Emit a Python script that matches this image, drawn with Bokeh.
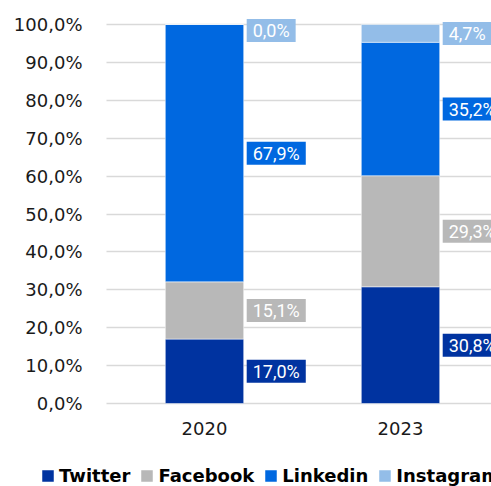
from bokeh.plotting import figure
from bokeh.models import ColumnDataSource, Range1d, FixedTicker, Legend, LegendItem, Grid
from bokeh.core.properties import value
from bokeh.embed import file_html
from bokeh.resources import INLINE

years = ["2020", "2023"]
series = ["Twitter", "Facebook", "Linkedin", "Instagram"]
twitter = [17.0, 30.8]
facebook = [15.1, 29.3]
linkedin = [67.9, 35.2]
instagram = [0.0, 4.7]
colors = ["#0033A0", "#B8B8B8", "#0068E0", "#93BDE8"]
y_ticks = [0, 10, 20, 30, 40, 50, 60, 70, 80, 90, 100]

values = {"Twitter": twitter, "Facebook": facebook, "Linkedin": linkedin, "Instagram": instagram}
xs = list(range(len(years)))

data = {"x": xs}
data.update(values)
source = ColumnDataSource(data)

W, H = 491, 486
XPX = 196.0   # px per category
YPX = 3.79    # px per percent
X0, Y0 = 204, 403  # pixel position of first category / of 0 %

x_left = -X0 / XPX
x_right = (W - X0) / XPX
y_top = Y0 / YPX
y_bottom = -(H - Y0) / YPX
axis_x = -0.5

p = figure(width=W, height=H, output_backend="svg", toolbar_location=None,
           x_range=Range1d(x_left, x_right), y_range=Range1d(y_bottom, y_top),
           min_border=0, min_border_left=0, min_border_right=0,
           min_border_top=0, min_border_bottom=0)

renderers = p.vbar_stack(series, x="x", width=0.4, color=colors, source=source,
                         line_color="white", line_width=0.5)

def fmt(v):
    return f"{v:.1f}".replace(".", ",") + "%"

bottoms = [0.0] * len(years)
for name, col in zip(series, colors):
    vals = values[name]
    mids = []
    for i, v in enumerate(vals):
        mids.append(min(bottoms[i] + v / 2, 98.4))
        bottoms[i] += v
    lsrc = ColumnDataSource(dict(x=[x + 0.2 for x in xs], y=mids, t=[fmt(v) for v in vals]))
    p.text(x="x", y="y", text="t", source=lsrc, x_offset=3,
           text_align="left", text_baseline="middle",
           text_color="white", text_font=value("Roboto"),
           text_font_size="18px", background_fill_color=col, padding=(6, 1))

p.yaxis.ticker = FixedTicker(ticks=y_ticks)
p.yaxis.major_label_overrides = {t: f"{t:.1f}".replace(".", ",") + "%" for t in y_ticks}
p.xaxis.ticker = FixedTicker(ticks=xs)
p.xaxis.major_label_overrides = {i: y for i, y in enumerate(years)}
p.yaxis.fixed_location = axis_x
p.xaxis.fixed_location = 0

for ax in (p.xaxis, p.yaxis):
    ax.axis_line_color = None
    ax.major_tick_line_color = None
    ax.minor_tick_line_color = None
    ax.major_label_text_font = "DejaVu Sans"
    ax.major_label_text_font_size = "18px"
    ax.major_label_text_color = "#1a1a1a"
p.yaxis.major_label_standoff = 18
p.xaxis.major_label_standoff = 12

p.xgrid.grid_line_color = None
if "cross_bounds" in Grid.properties():
    p.ygrid.grid_line_color = "#D9D9D9"
    p.ygrid.grid_line_width = 1.5
    p.ygrid.cross_bounds = (axis_x, x_right)
else:
    p.ygrid.grid_line_color = None
    gsrc = ColumnDataSource(dict(y=y_ticks, x0=[axis_x] * len(y_ticks), x1=[x_right] * len(y_ticks)))
    p.segment(x0="x0", y0="y", x1="x1", y1="y", source=gsrc, line_color="#D9D9D9",
              line_width=1.5, level="underlay")
p.outline_line_color = None

legend = Legend(items=[LegendItem(label=n, renderers=[r]) for n, r in zip(series, renderers)],
                orientation="horizontal", location=(40, 0),
                glyph_width=15, glyph_height=15, label_standoff=4, spacing=9,
                padding=0, margin=0, border_line_color=None, background_fill_alpha=0,
                label_text_font="DejaVu Sans", label_text_font_style="bold",
                label_text_font_size="18px", label_text_color="black", label_height=20)
p.add_layout(legend, "center")

open("out.html", "w").write(file_html(p, INLINE))
